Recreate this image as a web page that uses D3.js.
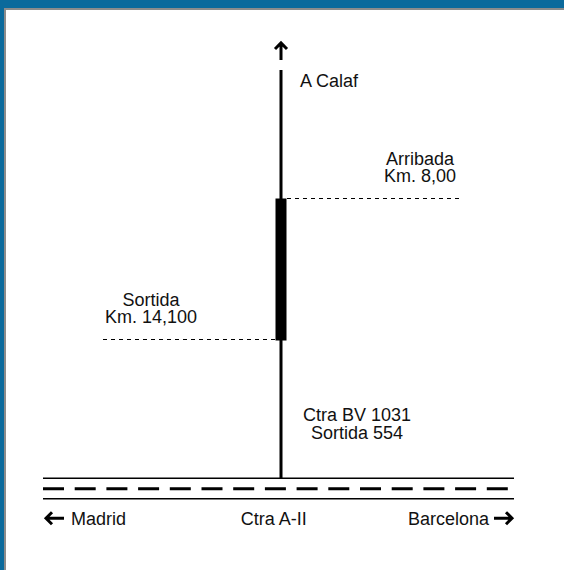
<!DOCTYPE html>
<html>
<head>
<meta charset="utf-8">
<script src="https://d3js.org/d3.v7.min.js"></script>
<style>
    html, body { margin: 0; padding: 0; overflow: hidden; background: #fff; }
    svg { display: block; }
    text { font-family: "Liberation Sans", Arial, sans-serif; font-size: 18px; fill: #111; }
</style>
</head>
<body>
<div class="map"></div>
<script>
// km points along the BV-1031 (schematic)
var roadKm = [20.1, 2.44];             // junction with A-II, top end towards Calaf
var markerKm = [14.1, 8.0];            // exit / arrival
var markerNames = ["Sortida", "Arribada"];
var markerLabels = ["Km. 14,100", "Km. 8,00"];
var sideLabels = ["Madrid", "Ctra A-II", "Barcelona"];
var sidePos = [0, 0.49, 1];
var roadLabel = ["Ctra BV 1031", "Sortida 554"];
var topLabel = "A Calaf";

var width = 564,
    height = 570;

var svg = d3.select(".map")
    .append("svg")
    .attr("width", width)
    .attr("height", height);

// frame
svg.append("rect").attr("width", width).attr("height", height).attr("fill", "#0b6a9c");
svg.append("rect").attr("x", 4).attr("y", 8).attr("width", width).attr("height", height).attr("fill", "#8c8c8c");
svg.append("rect").attr("x", 6).attr("y", 10).attr("width", width).attr("height", height).attr("fill", "#fff");

var y = d3.scaleLinear()
    .domain(markerKm)
    .range([339.5, 198.5]);

var x = d3.scaleLinear()
    .domain([0, 1])
    .range([43, 514]);

var cx = 281,
    roadY = y(roadKm[0]);

// A-II road
var g = svg.append("g");
g.selectAll("line.edge")
    .data([0, 20.5])
    .enter().append("line")
    .attr("class", "edge")
    .attr("x1", x(0)).attr("x2", x(1))
    .attr("y1", function(d) { return roadY + d; })
    .attr("y2", function(d) { return roadY + d; })
    .attr("stroke", "#000")
    .attr("stroke-width", 1.5);

g.append("line")
    .attr("x1", x(0)).attr("x2", x(1))
    .attr("y1", roadY + 10.5).attr("y2", roadY + 10.5)
    .attr("stroke", "#000")
    .attr("stroke-width", 3)
    .attr("stroke-dasharray", "21,10.7");

// BV-1031
g.append("line")
    .attr("x1", cx).attr("x2", cx)
    .attr("y1", y(roadKm[1])).attr("y2", roadY)
    .attr("stroke", "#000")
    .attr("stroke-width", 3);

g.append("rect")
    .attr("x", cx - 5.5)
    .attr("y", y(markerKm[1]))
    .attr("width", 11)
    .attr("height", y(markerKm[0]) - y(markerKm[1]) + 1)
    .attr("fill", "#000");

// marker guide lines
g.selectAll("line.guide")
    .data(markerKm)
    .enter().append("line")
    .attr("class", "guide")
    .attr("x1", function(d, i) { return i == 0 ? 103 : cx + 6; })
    .attr("x2", function(d, i) { return i == 0 ? cx - 5 : 460; })
    .attr("y1", function(d) { return y(d); })
    .attr("y2", function(d) { return y(d); })
    .attr("stroke", "#000")
    .attr("stroke-width", 1)
    .attr("stroke-dasharray", "4,4");

g.selectAll("text.mark")
    .data(markerKm)
    .enter().append("text")
    .attr("class", "mark")
    .attr("x", function(d, i) { return i == 0 ? 151 : 420; })
    .attr("y", function(d) { return y(d) - 33.5; })
    .attr("text-anchor", "middle")
    .each(function(d, i) {
        d3.select(this).append("tspan").attr("x", i == 0 ? 151 : 420).text(markerNames[i]);
        d3.select(this).append("tspan").attr("x", i == 0 ? 151 : 420).attr("dy", 17).text(markerLabels[i]);
    });

// road name
var rl = g.append("text")
    .attr("x", 357)
    .attr("y", roadY - 57)
    .attr("text-anchor", "middle");
rl.selectAll("tspan")
    .data(roadLabel)
    .enter().append("tspan")
    .attr("x", 357)
    .attr("dy", function(d, i) { return i ? 17.5 : 0; })
    .text(function(d) { return d; });

// towards Calaf
var topY = y(roadKm[1]);
g.append("text")
    .attr("x", cx + 19)
    .attr("y", topY + 17)
    .text(topLabel);

g.append("path")
    .attr("d", "M" + cx + "," + (topY - 27) + "V" + (topY - 10) +
        "M" + (cx - 6) + "," + (topY - 21) + "L" + cx + "," + (topY - 27) + "L" + (cx + 6) + "," + (topY - 21))
    .attr("fill", "none")
    .attr("stroke", "#000")
    .attr("stroke-width", 3);

// A-II directions
var ty = roadY + 46.5;
g.selectAll("text.side")
    .data(sideLabels)
    .enter().append("text")
    .attr("class", "side")
    .attr("x", function(d, i) { return i == 0 ? x(0) + 28 : i == 2 ? x(1) - 25 : x(sidePos[i]); })
    .attr("y", ty)
    .attr("text-anchor", function(d, i) { return ["start", "middle", "end"][i]; })
    .text(function(d) { return d; });

var ay = ty - 6.5;
g.append("path")
    .attr("d", "M" + (x(0) + 21) + "," + ay + "H" + (x(0) + 3) +
        "M" + (x(0) + 9) + "," + (ay - 6) + "L" + (x(0) + 3) + "," + ay + "L" + (x(0) + 9) + "," + (ay + 6))
    .attr("fill", "none")
    .attr("stroke", "#000")
    .attr("stroke-width", 3);

g.append("path")
    .attr("d", "M" + (x(1) - 20) + "," + ay + "H" + (x(1) - 2) +
        "M" + (x(1) - 8) + "," + (ay - 6) + "L" + (x(1) - 2) + "," + ay + "L" + (x(1) - 8) + "," + (ay + 6))
    .attr("fill", "none")
    .attr("stroke", "#000")
    .attr("stroke-width", 3);
</script>
</body>
</html>
